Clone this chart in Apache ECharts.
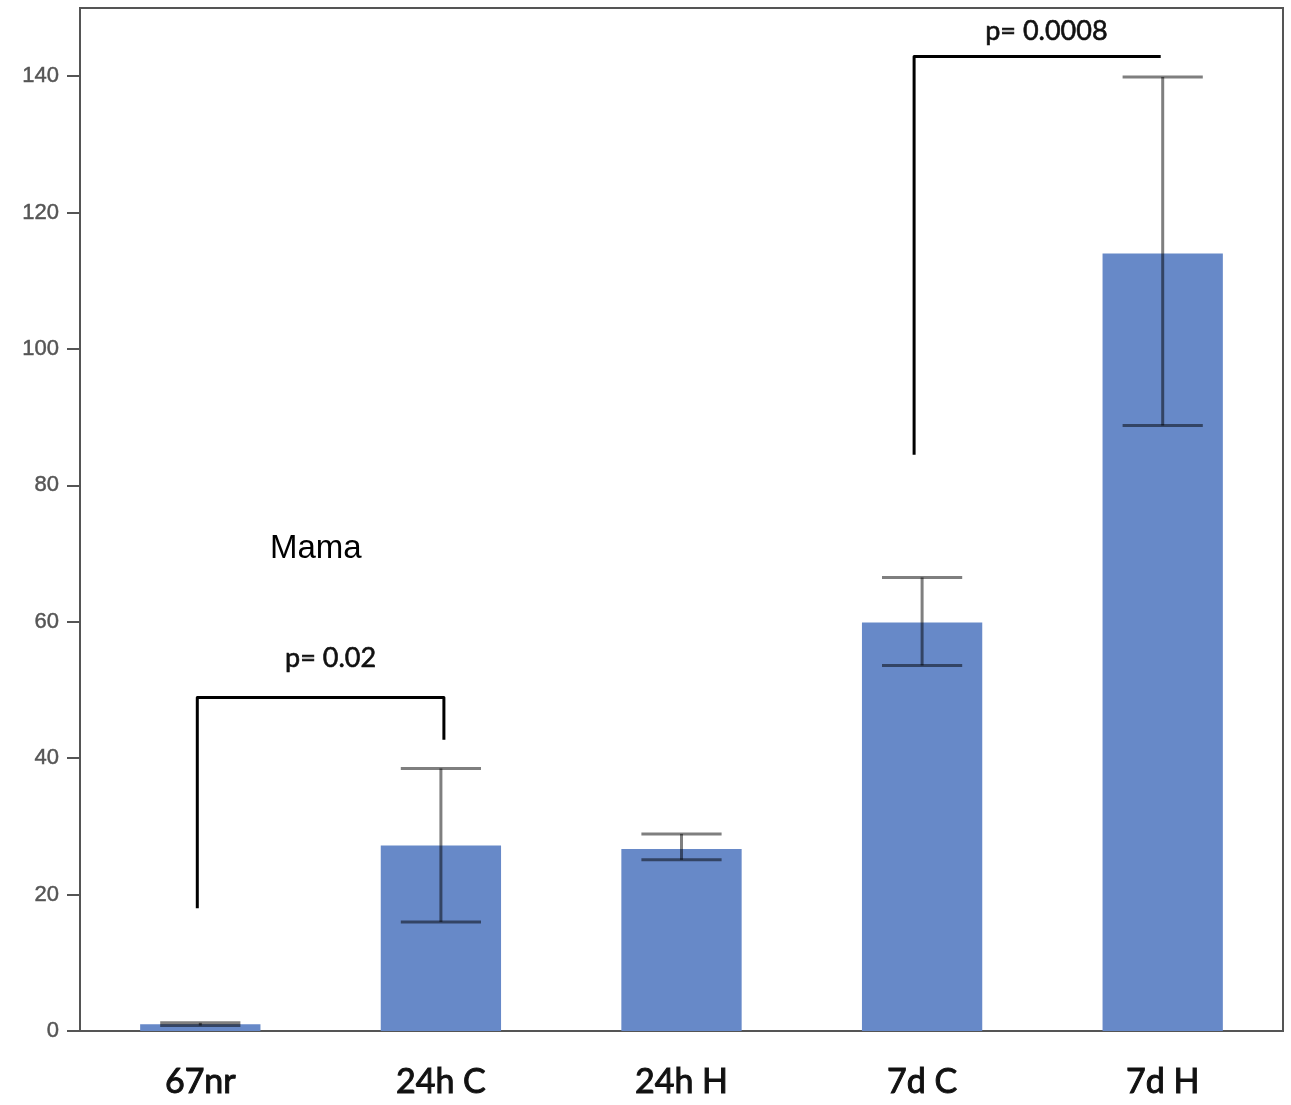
<!DOCTYPE html>
<html>
<head>
<meta charset="utf-8">
<title>Mama</title>
<script src="https://cdn.jsdelivr.net/npm/echarts@6/dist/echarts.min.js"></script>
<style>
  html, body { margin: 0; padding: 0; background: #fff; }
  #chart { width: 1291px; height: 1105px; }
</style>
</head>
<body>
<div id="chart"></div>
<script>
// Groups and measured means with their error ranges
const categories = ['67nr', '24h C', '24h H', '7d C', '7d H'];
const means = [1.0, 27.2, 26.7, 59.9, 114.0];
const errLow = [0.8, 16.0, 25.1, 53.6, 88.8];
const errHigh = [1.2, 38.5, 28.9, 66.5, 139.9];

// Significance brackets: group indices, leg bottoms, bar height and label
const bracketFrom = [0, 3];
const bracketTo = [1, 4];
const bracketFromBase = [18.0, 84.5];
const bracketToBase = [42.7, null];
const bracketTop = [48.9, 142.9];
const bracketLabels = ['p= 0.02', 'p= 0.0008'];
const bracketLabelValue = [54.7, 146.6];

const yTicks = { min: 0, max: 150, interval: 20 };
const panelTitle = 'Mama';

const chart = echarts.init(document.getElementById('chart'), null, { renderer: 'canvas' });

const frameColor = '#555';
const barColor = '#6789C8';
const errColor = 'rgba(0,0,0,0.5)';

const errData = categories.map((c, i) => [i, errLow[i], errHigh[i]]);
const bracketData = bracketFrom.map((f, i) => [
  f, bracketTo[i], bracketFromBase[i],
  bracketToBase[i] == null ? NaN : bracketToBase[i],
  bracketTop[i], bracketLabelValue[i]
]);

// small horizontal nudges (in px) for the bracket legs
const legNudge = [[-3, 3], [-8, -2]];
const labelNudge = [10, 9];

chart.setOption({
  animation: false,
  grid: {
    left: 80, right: 8, top: 8, bottom: 74,
    show: true, borderColor: frameColor, borderWidth: 2, backgroundColor: '#fff'
  },
  xAxis: {
    type: 'category',
    data: categories,
    axisLine: { lineStyle: { color: frameColor, width: 2 } },
    axisTick: { show: false },
    axisLabel: {
      margin: 34, color: '#111', fontFamily: 'Lato', fontSize: 34, fontWeight: 'normal',
      textBorderColor: '#111', textBorderWidth: 1
    }
  },
  yAxis: {
    type: 'value',
    min: yTicks.min, max: yTicks.max, interval: yTicks.interval,
    splitLine: { show: false },
    axisLine: { show: true, lineStyle: { color: frameColor, width: 2 } },
    axisTick: { show: true, length: 13, lineStyle: { color: frameColor, width: 2 } },
    axisLabel: {
      margin: 21, color: '#555', fontFamily: 'Liberation Sans, Arial', fontSize: 22,
      textBorderColor: '#666', textBorderWidth: 0.5,
      showMaxLabel: false
    }
  },
  graphic: [{
    type: 'text', left: 270, top: 532,
    style: { text: panelTitle, fill: '#000', font: '33px "Liberation Sans", Arial' }
  }],
  series: [
    {
      type: 'bar',
      data: means,
      barWidth: '50%',
      itemStyle: { color: barColor },
      z: 2
    },
    {
      type: 'custom',
      data: errData,
      encode: { x: 0, y: [1, 2] },
      z: 3,
      renderItem: function (params, api) {
        const lo = api.coord([api.value(0), api.value(1)]);
        const hi = api.coord([api.value(0), api.value(2)]);
        const half = api.size([1, 0])[0] / 6;
        const style = { stroke: errColor, lineWidth: 3 };
        return {
          type: 'group',
          children: [
            { type: 'line', shape: { x1: hi[0], y1: hi[1], x2: lo[0], y2: lo[1] }, style: style },
            { type: 'line', shape: { x1: hi[0] - half, y1: hi[1], x2: hi[0] + half, y2: hi[1] }, style: style },
            { type: 'line', shape: { x1: lo[0] - half, y1: lo[1], x2: lo[0] + half, y2: lo[1] }, style: style }
          ]
        };
      }
    },
    {
      type: 'custom',
      data: bracketData,
      encode: { x: [0, 1], y: [2, 4] },
      z: 4,
      renderItem: function (params, api) {
        const i = params.dataIndex;
        const a = api.coord([api.value(0), api.value(2)]);
        const top = api.coord([api.value(0), api.value(4)]);
        const b = api.coord([api.value(1), api.value(4)]);
        const ax = a[0] + legNudge[i][0];
        const bx = b[0] + legNudge[i][1];
        const pts = [[ax, a[1]], [ax, top[1]], [bx, top[1]]];
        const toBase = api.value(3);
        if (!isNaN(toBase)) {
          pts.push([bx, api.coord([api.value(1), toBase])[1]]);
        }
        const ly = api.coord([api.value(0), api.value(5)])[1];
        return {
          type: 'group',
          children: [
            {
              type: 'polyline', shape: { points: pts },
              style: { stroke: '#000', lineWidth: 3, fill: null, lineJoin: 'round' }
            },
            {
              type: 'text',
              style: {
                text: bracketLabels[i], x: (ax + bx) / 2 + labelNudge[i], y: ly,
                align: 'center', verticalAlign: 'middle',
                fill: '#111', font: '27px Lato', stroke: '#111', lineWidth: 0.6
              }
            }
          ]
        };
      }
    }
  ]
});
</script>
</body>
</html>
